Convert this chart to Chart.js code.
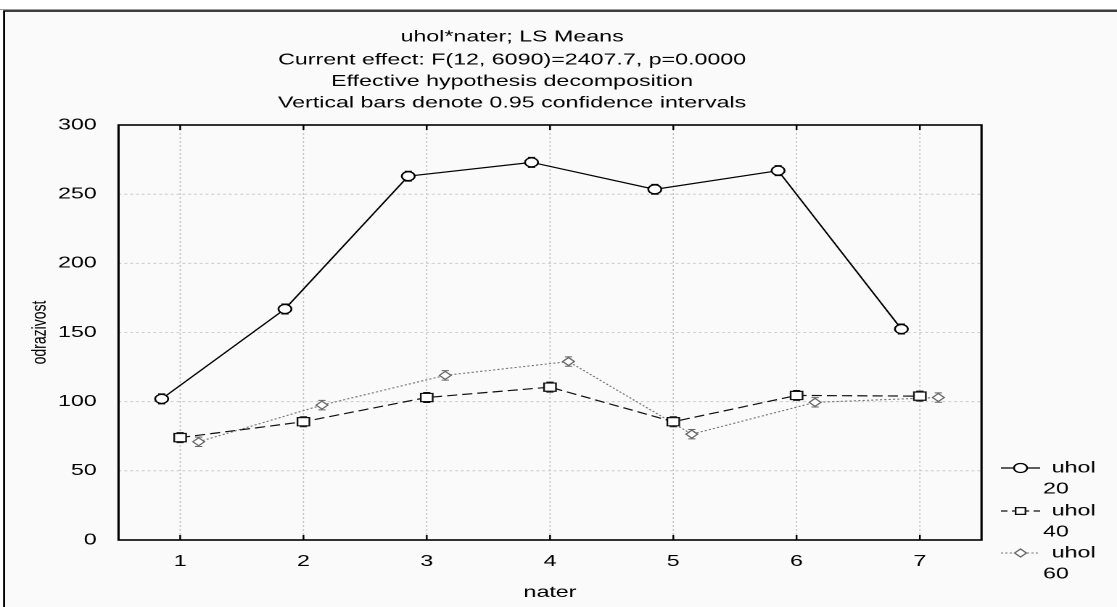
<!DOCTYPE html>
<html>
<head>
<meta charset="utf-8">
<script src="https://cdn.jsdelivr.net/npm/chart.js@4/dist/chart.umd.min.js"></script>
<style>
  html, body { margin: 0; padding: 0; background: #fff; overflow: hidden; }
  #chart { display: block; }
</style>
</head>
<body>
<!-- the original picture is stretched sideways, so the canvas is drawn narrow and widened by css -->
<canvas id="chart" width="770" height="607" style="width:1117px;height:607px"></canvas>
<script>
// data
const nater = [1, 2, 3, 4, 5, 6, 7];
const yTicks = [0, 50, 100, 150, 200, 250, 300];
const seriesLabels = ["uhol 20", "uhol 40", "uhol 60"];
const uhol20 = [102, 167, 263, 273, 253.5, 267, 152.5];
const uhol40 = [74, 85.5, 103, 110.5, 85.5, 104.5, 104];
const uhol60 = [71, 97.5, 119, 129, 76.5, 99.5, 103];
// half widths of the 0.95 confidence intervals (estimated)
const ci20 = [3.6, 3.6, 3.6, 3.6, 3.6, 3.6, 3.6];
const ci40 = [3.6, 3.6, 3.6, 3.6, 3.6, 3.6, 3.6];
const ci60 = [3.4, 3.4, 3.4, 3.4, 3.4, 3.4, 3.4];
const xOffsets = [-0.15, 0, 0.15];
const titleLines = [
  "uhol*nater; LS Means",
  "Current effect: F(12, 6090)=2407.7, p=0.0000",
  "Effective hypothesis decomposition",
  "Vertical bars denote 0.95 confidence intervals"
];

const FONT = "'Liberation Sans', Arial, sans-serif";
const values = [uhol20, uhol40, uhol60];
const cis = [ci20, ci40, ci60];

function points(arr, k) {
  return arr.map((v, i) => ({ x: nater[i] + xOffsets[k], y: v }));
}

const styles = [
  { borderColor: "#000", borderWidth: 1.2, borderDash: [], pointStyle: "circle", pointRadius: 4.5, pointBorderColor: "#000", pointBorderWidth: 1.3 },
  { borderColor: "#111", borderWidth: 1.2, borderDash: [7, 3.5], pointStyle: "rect", pointRadius: 5.8, pointBorderColor: "#111", pointBorderWidth: 1.2 },
  { borderColor: "#777", borderWidth: 1.1, borderDash: [1.5, 1.5], pointStyle: "rectRot", pointRadius: 4, pointBorderColor: "#666", pointBorderWidth: 1.1 }
];

const datasets = values.map((arr, k) => Object.assign({
  label: seriesLabels[k],
  data: points(arr, k),
  pointBackgroundColor: "#fff",
  pointHoverRadius: 0,
  tension: 0,
  fill: false
}, styles[k]));

// page frame, title, grid and error bars
const backdrop = {
  id: "backdrop",
  beforeDraw(chart) {
    const ctx = chart.ctx;
    ctx.save();
    ctx.fillStyle = "#fff";
    ctx.fillRect(0, 0, chart.width, chart.height);
    ctx.strokeStyle = "#999";
    ctx.lineWidth = 1;
    ctx.beginPath();
    ctx.moveTo(0, 9.5);
    ctx.lineTo(chart.width, 9.5);
    ctx.stroke();
    ctx.fillStyle = "#fafafa";
    ctx.fillRect(2.8, 11, chart.width, chart.height);
    ctx.strokeStyle = "#000";
    ctx.lineWidth = 1.4;
    ctx.beginPath();
    ctx.moveTo(2.8, chart.height + 2);
    ctx.lineTo(2.8, 11);
    ctx.lineTo(chart.width + 2, 11);
    ctx.stroke();

    ctx.fillStyle = "#000";
    ctx.font = "16px " + FONT;
    ctx.textAlign = "center";
    ctx.textBaseline = "middle";
    const ty = [37, 60, 81.5, 103];
    titleLines.forEach((t, i) => ctx.fillText(t, 353, ty[i]));
    ctx.restore();
  },
  beforeDatasetsDraw(chart) {
    const ctx = chart.ctx;
    const a = chart.chartArea;
    const xs = chart.scales.x, ys = chart.scales.y;
    ctx.save();
    ctx.strokeStyle = "#c4c4c4";
    ctx.lineWidth = 0.8;
    ctx.setLineDash([2, 2]);
    ctx.beginPath();
    nater.forEach(v => {
      const x = xs.getPixelForValue(v);
      ctx.moveTo(x, a.top);
      ctx.lineTo(x, a.bottom);
    });
    yTicks.forEach(v => {
      const y = ys.getPixelForValue(v);
      ctx.moveTo(a.left, y);
      ctx.lineTo(a.right, y);
    });
    ctx.stroke();
    ctx.setLineDash([]);

    // confidence interval bars
    values.forEach((arr, k) => {
      ctx.strokeStyle = styles[k].pointBorderColor;
      ctx.lineWidth = 1;
      arr.forEach((v, i) => {
        const x = xs.getPixelForValue(nater[i] + xOffsets[k]);
        const y1 = ys.getPixelForValue(v + cis[k][i]);
        const y2 = ys.getPixelForValue(v - cis[k][i]);
        ctx.beginPath();
        ctx.moveTo(x, y1); ctx.lineTo(x, y2);
        ctx.moveTo(x - 2.5, y1); ctx.lineTo(x + 2.5, y1);
        ctx.moveTo(x - 2.5, y2); ctx.lineTo(x + 2.5, y2);
        ctx.stroke();
      });
    });
    ctx.restore();
  },
  afterDraw(chart) {
    const ctx = chart.ctx;
    const a = chart.chartArea;
    const xs = chart.scales.x;
    ctx.save();
    ctx.strokeStyle = "#000";
    ctx.lineWidth = 1.6;
    ctx.strokeRect(a.left, a.top, a.right - a.left, a.bottom - a.top);
    ctx.lineWidth = 1.2;
    ctx.beginPath();
    nater.forEach(v => {
      const x = xs.getPixelForValue(v);
      ctx.moveTo(x, a.top); ctx.lineTo(x, a.top + 5);
      ctx.moveTo(x, a.bottom); ctx.lineTo(x, a.bottom - 5);
    });
    ctx.stroke();

    // legend
    const rows = [468, 511, 553];
    ctx.font = "16px " + FONT;
    ctx.textBaseline = "middle";
    ctx.textAlign = "left";
    seriesLabels.forEach((lab, k) => {
      const st = styles[k];
      const y = rows[k];
      ctx.strokeStyle = st.borderColor;
      ctx.lineWidth = st.borderWidth;
      ctx.setLineDash(k === 1 ? [4.5, 3] : st.borderDash);
      ctx.beginPath();
      ctx.moveTo(690, y); ctx.lineTo(717, y);
      ctx.stroke();
      ctx.setLineDash([]);
      Chart.helpers.drawPoint(ctx, {
        pointStyle: st.pointStyle,
        radius: k === 1 ? 4.8 : st.pointRadius,
        rotation: 0,
        borderWidth: st.pointBorderWidth
      }, 703.5, y);
      ctx.fillStyle = "#fff";
      ctx.strokeStyle = st.pointBorderColor;
      ctx.fill();
      ctx.stroke();
      const parts = lab.split(" ");
      ctx.fillStyle = "#000";
      ctx.fillText(parts[0], 725, y);
      ctx.fillText(parts[1], 719, y + 21);
    });
    ctx.restore();
  }
};

new Chart(document.getElementById("chart"), {
  type: "line",
  data: { datasets: datasets },
  options: {
    responsive: false,
    animation: false,
    devicePixelRatio: 2,
    layout: { padding: { top: 125, right: 93.4, bottom: 0, left: 0 } },
    plugins: {
      legend: { display: false },
      title: { display: false },
      tooltip: { enabled: false }
    },
    scales: {
      x: {
        type: "linear",
        min: 0.5,
        max: 7.5,
        grid: { display: false },
        border: { display: false },
        afterBuildTicks: s => { s.ticks = nater.map(v => ({ value: v })); },
        afterFit: s => { s.height = 67; },
        ticks: { color: "#000", font: { family: FONT, size: 16 }, padding: 4 },
        title: { display: true, text: "nater", color: "#000", font: { family: FONT, size: 16 }, padding: { top: 0, bottom: 5 } }
      },
      y: {
        min: 0,
        max: 300,
        grid: { display: false },
        border: { display: false },
        afterBuildTicks: s => { s.ticks = yTicks.map(v => ({ value: v })); },
        afterFit: s => { s.width = 81.7; },
        ticks: { color: "#000", font: { family: FONT, size: 16 }, padding: 7 },
        title: { display: true, text: "odrazivost", color: "#000", font: { family: FONT, size: 14 }, padding: { top: 19, bottom: 0 } }
      }
    }
  },
  plugins: [backdrop]
});
</script>
</body>
</html>
